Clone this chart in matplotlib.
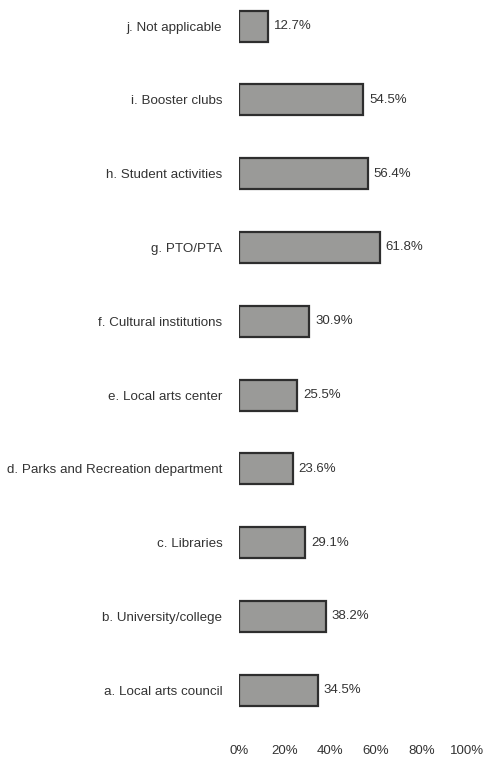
import numpy as np
import matplotlib.pyplot as plt

plt.rcParams['font.family'] = ['Liberation Sans', 'DejaVu Sans']

categories = ['a. Local arts council', 'b. University/college', 'c. Libraries',
              'd. Parks and Recreation department', 'e. Local arts center',
              'f. Cultural institutions', 'g. PTO/PTA', 'h. Student activities',
              'i. Booster clubs', 'j. Not applicable']
values = [34.5, 38.2, 29.1, 23.6, 25.5, 30.9, 61.8, 56.4, 54.5, 12.7]
xticks = [0, 20, 40, 60, 80, 100]

fig = plt.figure(figsize=(4.89, 7.62), dpi=100)
ax = fig.add_axes([239/489, 35/762, 228/489, 723/762])

y = np.arange(len(categories))
ax.barh(y, values, height=0.42, color='#9a9a98', edgecolor='#2e2e2e', linewidth=1.6)
for yi, v in zip(y, values):
    ax.text(v + 2.5, yi, f'{v:.1f}%', va='center', ha='left', fontsize=9.5, color='#333333')

ax.set_yticks(y)
ax.set_yticklabels(categories, fontsize=9.6, color='#333333')
ax.set_xticks(xticks)
ax.set_xticklabels([f'{t}%' for t in xticks], fontsize=9.5, color='#333333')
ax.set_xlim(0, 100)
ax.set_ylim(-0.5, 9.3)
ax.tick_params(axis='y', length=0, pad=12)
ax.tick_params(axis='x', length=0, pad=13)
for s in ax.spines.values():
    s.set_visible(False)

fig.savefig('out.png', dpi=100)
